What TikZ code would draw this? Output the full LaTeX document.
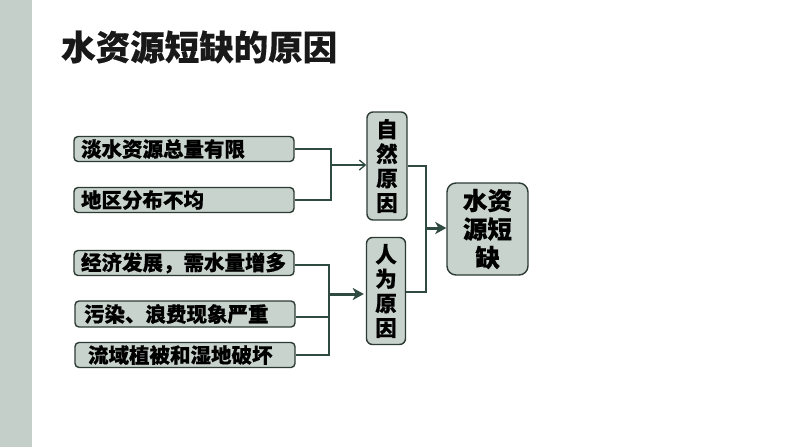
\documentclass[tikz,border=0pt]{standalone}
\usepackage{fontspec}
\setmainfont{Noto Sans CJK SC}[BoldFeatures={FakeBold=0.5}]
\usetikzlibrary{arrows.meta}
\definecolor{boxfill}{HTML}{C9D3CE}
\definecolor{boxline}{HTML}{2D3B35}
\definecolor{conn}{HTML}{2F4A40}
\definecolor{strip}{HTML}{C5CFCA}
\begin{document}
\begin{tikzpicture}[x=1pt,y=-1pt,
  cause/.style={draw=boxline,line width=1.4pt,fill=boxfill,rounded corners=4pt,
    minimum height=25pt,text width=206pt,align=left,inner xsep=7pt,inner ysep=0pt,
    font=\fontsize{20.5}{22}\selectfont\bfseries,text=black},
  vbox/.style={draw=boxline,line width=1.4pt,fill=boxfill,rounded corners=6pt,
    minimum width=40pt,minimum height=107pt,align=center,inner sep=0pt,
    font=\fontsize{21.5}{24.5}\selectfont\bfseries,text=black},
  bigbox/.style={draw=boxline,line width=1.4pt,fill=boxfill,rounded corners=9pt,
    minimum width=81pt,minimum height=92pt,align=center,inner sep=0pt,
    font=\fontsize{24.5}{28.5}\selectfont\bfseries,text=black},
  conthin/.style={draw=conn,line width=1.3pt},
  conthick/.style={draw=conn,line width=3pt}
]
\useasboundingbox (0,0) rectangle (794,447);
\fill[white] (0,0) rectangle (794,447);
\fill[strip] (0,0) rectangle (32,447);
\node[anchor=west,font=\fontsize{34.5}{36}\selectfont\bfseries,text=black!90,inner sep=0pt] (title) at (61,47) {水资源短缺的原因};

\node[cause] (c1) at (184,149) {淡水资源总量有限};
\node[cause] (c2) at (184,200) {地区分布不均};
\node[cause] (c3) at (184,263) {经济发展，需水量增多};
\node[cause,minimum height=26pt] (c4) at (185,314) {\hspace*{2pt}污染、浪费现象严重};
\node[cause] (c5) at (185,355) {\hspace*{6pt}流域植被和湿地破坏};

\node[vbox,minimum height=108pt] (nat) at (387,166) {自\\然\\原\\因};
\node[vbox,minimum width=39pt] (hum) at (386,291) {人\\为\\原\\因};
\node[bigbox] (res) at (487.5,229) {水资\\源短\\缺};

\coordinate (j1) at (331,165);
\coordinate (j2) at (329,294);
\coordinate (j3) at (426,228);

\draw[conthin] (c1.east |- 0,149) -| (j1);
\draw[conthin] (c2.east |- 0,200) -| (j1);
\draw[conthin,-{Straight Barb[length=6pt,width=10pt,line width=1.3pt]}] (j1) -- (nat.west |- j1);

\draw[conthin] (c3.east |- 0,265) -| (j2);
\draw[conthin] (c4.east |- 0,317) -| (j2);
\draw[conthin] (c5.east |- 0,355) -| (j2);
\draw[conthick,-{Stealth[length=11pt,width=12pt,inset=3pt]}] (j2) -- ([xshift=-2pt]hum.west |- j2);

\draw[conthin] (nat.east |- 0,166) -| (j3);
\draw[conthin] (hum.east |- 0,292) -| (j3);
\draw[conthick,-{Stealth[length=11pt,width=12pt,inset=3pt]}] (j3) -- (res.west |- j3);
\end{tikzpicture}
\end{document}
